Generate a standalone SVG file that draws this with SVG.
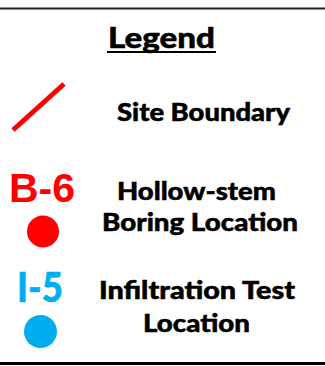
<svg xmlns="http://www.w3.org/2000/svg" width="325" height="366" viewBox="0 0 325 366">
<style>
.t{font-family:Lato,"Open Sans","DejaVu Sans",sans-serif;font-weight:900;fill:#000;stroke:#000;stroke-width:0.5;}
</style>
<rect x="0" y="0" width="325" height="366" fill="#fff"/>
<g id="frame">
<line x1="0" y1="8.5" x2="325" y2="8.5" stroke="#222" stroke-width="2"/>
<line x1="0" y1="363.5" x2="325" y2="363.5" stroke="#000" stroke-width="3"/>
</g>
<g id="title">
<text class="t" x="108" y="48.3" font-size="29" textLength="107" lengthAdjust="spacingAndGlyphs">Legend</text>
<line x1="107" y1="52" x2="216" y2="52" stroke="#000" stroke-width="2"/>
</g>
<g id="site-boundary">
<line x1="13" y1="130" x2="64" y2="84" stroke="#ff0000" stroke-width="5"/>
<text class="t" x="117" y="120.5" font-size="24" textLength="173" lengthAdjust="spacingAndGlyphs">Site Boundary</text>
</g>
<g id="boring">
<text x="9" y="201.5" font-family="'Liberation Sans',Arial,sans-serif" font-weight="bold" font-size="41" fill="#ff0000">B-6</text>
<circle cx="43" cy="231.5" r="16" fill="#ff0000"/>
<text class="t" x="117" y="200" font-size="25" textLength="159" lengthAdjust="spacingAndGlyphs">Hollow-stem</text>
<text class="t" x="102" y="230.5" font-size="25" textLength="196" lengthAdjust="spacingAndGlyphs">Boring Location</text>
</g>
<g id="infiltration">
<text class="t" x="17" y="301.5" font-size="41" style="fill:#00aeef;stroke:#00aeef" textLength="46" lengthAdjust="spacingAndGlyphs">I-5</text>
<circle cx="40.5" cy="331.5" r="16.5" fill="#00aeef"/>
<text class="t" x="99" y="299" font-size="25" textLength="196" lengthAdjust="spacingAndGlyphs">Infiltration Test</text>
<text class="t" x="143" y="331.5" font-size="25" textLength="107" lengthAdjust="spacingAndGlyphs">Location</text>
</g>
</svg>
